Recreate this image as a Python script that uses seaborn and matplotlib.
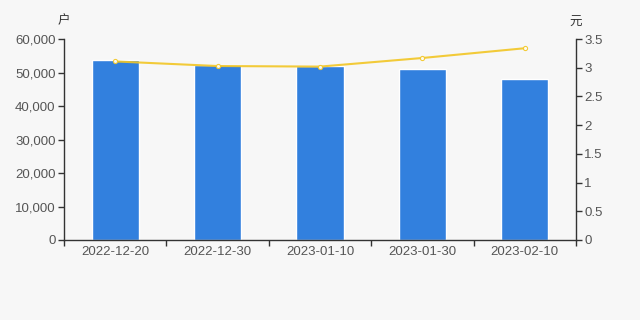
import matplotlib
matplotlib.use("Agg")
import matplotlib.pyplot as plt
import seaborn as sns
import numpy as np
import pandas as pd

dates = ["2022-12-20", "2022-12-30", "2023-01-10", "2023-01-30", "2023-02-10"]
holders = [53650, 52250, 52050, 51150, 48100]
price = [3.11, 3.03, 3.02, 3.17, 3.34]
left_ticks = [0, 10000, 20000, 30000, 40000, 50000, 60000]
right_ticks = [0, 0.5, 1, 1.5, 2, 2.5, 3, 3.5]

sns.set_theme(style="white")
plt.rcParams['font.family'] = ['Liberation Sans', 'Noto Sans CJK SC', 'DejaVu Sans']

bg = "#f7f7f7"
axis_c = "#333333"
txt_c = "#555555"

fig = plt.figure(figsize=(6.4, 3.2), dpi=100, facecolor=bg)
ax = fig.add_axes([0.1, 0.25, 0.8, 0.628])
ax.set_facecolor(bg)

df = pd.DataFrame({"date": dates, "holders": holders, "price": price})
sns.barplot(data=df, x="date", y="holders", color="#3280de", saturation=1,
            width=0.46, ax=ax)
ax.set_xlim(-0.5, 4.5)
ax.set_ylim(0, 60000)
ax.set_yticks(left_ticks)
ax.set_yticklabels([f"{v:,}" for v in left_ticks], fontsize=9.5, color=txt_c)
ax.set_xticks(np.arange(-0.5, 5, 1))
ax.set_xticklabels([""] * 6)
ax.set_xticks(np.arange(5), minor=True)
ax.set_xticklabels(dates, minor=True, fontsize=9.5, color=txt_c)
ax.tick_params(axis="x", which="major", length=4, width=1, color=axis_c, direction="out", bottom=True)
ax.tick_params(axis="x", which="minor", length=0, pad=4)
ax.tick_params(axis="y", length=4, width=1, color=axis_c, direction="out", left=True, pad=2)
ax.set_xlabel("")
ax.set_ylabel("")
for s in ["top", "right"]:
    ax.spines[s].set_visible(False)
for s in ["left", "bottom"]:
    ax.spines[s].set_color(axis_c)
    ax.spines[s].set_linewidth(1)

ax2 = ax.twinx()
sns.lineplot(x=np.arange(len(dates)), y=price, ax=ax2, color="#f2c624", linewidth=1.5,
             alpha=0.9, marker="o", markersize=3, markerfacecolor="white",
             markeredgecolor="#f2c624", markeredgewidth=0.8)
ax2.set_ylim(0, 3.5)
ax2.set_yticks(right_ticks)
ax2.set_yticklabels([f"{v:g}" for v in right_ticks], fontsize=9.5, color=txt_c)
ax2.tick_params(axis="y", length=4, width=1, color=axis_c, direction="out", right=True, pad=2)
for s in ["top", "left", "bottom"]:
    ax2.spines[s].set_visible(False)
ax2.spines["right"].set_color(axis_c)
ax2.spines["right"].set_linewidth(1)
ax2.set_xlim(-0.5, 4.5)

fig.text(64 / 640, 1 - 21 / 320, "户", fontsize=9, color="#333333", ha="center", va="center",
         family=['Noto Sans CJK SC', 'DejaVu Sans'])
fig.text(576 / 640, 1 - 22 / 320, "元", fontsize=9, color="#333333", ha="center", va="center",
         family=['Noto Sans CJK SC', 'DejaVu Sans'])

fig.savefig("out.png", dpi=100, facecolor=bg)
